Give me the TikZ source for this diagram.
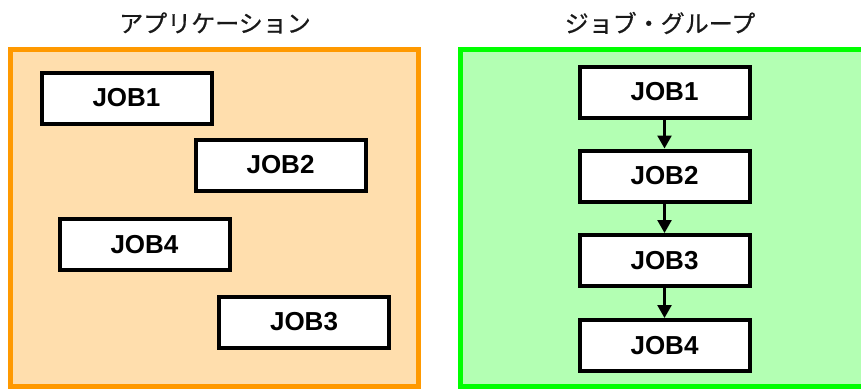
\documentclass[tikz,border=0pt]{standalone}
\usepackage{fontspec}
\setmainfont{Liberation Sans}
\newfontfamily\cjk[FakeBold=0.6]{Noto Sans CJK JP}
\usetikzlibrary{arrows.meta}
\definecolor{apborder}{RGB}{255,153,0}
\definecolor{apfill}{RGB}{255,222,173}
\definecolor{grborder}{RGB}{0,255,0}
\definecolor{grfill}{RGB}{179,255,179}
\begin{document}
\begin{tikzpicture}[x=1pt,y=-1pt,
  jobbox/.style={draw=black,fill=white,line width=4pt,minimum width=170pt,minimum height=51pt,inner sep=0pt,font=\fontsize{26}{28}\selectfont\bfseries},
  title/.style={font=\cjk\fontsize{24}{26}\selectfont,text=black!90},
  flow/.style={line width=2.5pt,-{Triangle[width=14pt,length=13pt]}}]
\useasboundingbox (0,0) rectangle (861,389);
% panels
\draw[apborder,fill=apfill,line width=5pt] (10.5,49.5) rectangle (418.5,386.5);
\draw[grborder,fill=grfill,line width=5pt] (460.5,49.5) rectangle (880,386.5);
% titles
\node[title] (t1) at (215,23) {アプリケーション};
\node[title] (t2) at (660,23) {ジョブ・グループ};
% left jobs
\node[jobbox] (a1) at (126.5,98) {JOB1};
\node[jobbox] (a2) at (280.5,165) {JOB2};
\node[jobbox] (a4) at (144.5,244.5) {JOB4};
\node[jobbox] (a3) at (304,322) {JOB3};
% right jobs
\node[jobbox] (b1) at (664.5,92) {JOB1};
\node[jobbox] (b2) at (664.5,176) {JOB2};
\node[jobbox] (b3) at (664.5,260.5) {JOB3};
\node[jobbox] (b4) at (664.5,345.5) {JOB4};
\draw[flow] (b1) -- (b2);
\draw[flow] (b2) -- (b3);
\draw[flow] (b3) -- (b4);
\end{tikzpicture}
\end{document}
